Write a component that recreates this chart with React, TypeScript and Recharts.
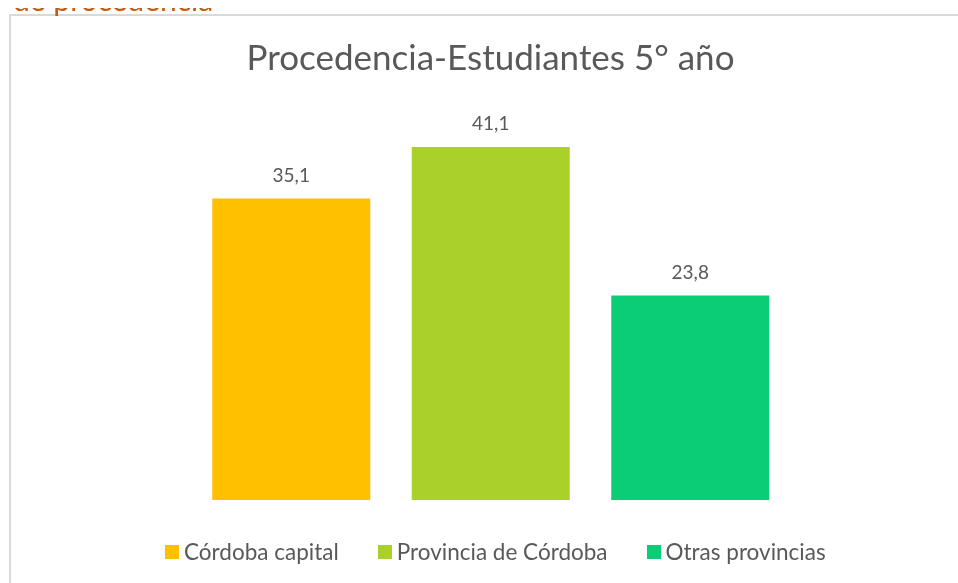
import React from "react";
import { BarChart, Bar, XAxis, YAxis, Cell, LabelList } from "recharts";

const categories = ["Córdoba capital", "Provincia de Córdoba", "Otras provincias"];
const values = [35.1, 41.1, 23.8];
const colors = ["#FFC000", "#A9D12A", "#0BCD75"];
const titleText = "Procedencia-Estudiantes 5° año";
const headerText = "de procedencia";

const data = categories.map((name, i) => ({ name, value: values[i] }));

const FONT = "Lato, 'Open Sans', sans-serif";
const GREY = "#595959";

export default function App() {
  return (
    <div style={{ position: "relative", width: 942, height: 567, fontFamily: FONT }}>
      <div
        style={{
          position: "fixed",
          left: 9,
          top: 14,
          right: 0,
          bottom: 0,
          borderLeft: "2px solid #D9D9D9",
          borderTop: "2px solid #D9D9D9",
        }}
      />
      <div
        style={{
          position: "absolute",
          left: 5,
          top: -24,
          fontSize: 30,
          lineHeight: "30px",
          color: "#C55A11",
          whiteSpace: "nowrap",
          fontFamily: FONT,
        }}
      >
        {headerText}
      </div>
      <div
        style={{
          position: "absolute",
          left: 0,
          width: 942,
          paddingLeft: 23,
          boxSizing: "border-box",
          top: 27,
          textAlign: "center",
          fontSize: 35,
          color: GREY,
          whiteSpace: "nowrap",
        }}
      >
        {titleText}
      </div>
      <div style={{ position: "absolute", left: 0, top: 0 }}>
        <BarChart
          width={942}
          height={567}
          data={data}
          margin={{ top: 105.5, right: 160, left: 183.5, bottom: 75 }}
          barCategoryGap={20.75}
        >
          <XAxis dataKey="name" hide />
          <YAxis hide domain={[0, 45]} />
          <Bar dataKey="value" isAnimationActive={false}>
            {data.map((d, i) => (
              <Cell key={d.name} fill={colors[i]} />
            ))}
            <LabelList
              dataKey="value"
              position="top"
              offset={17}
              fill={GREY}
              fontSize={19}
              fontFamily={FONT}
              formatter={(v: any) => String(v).replace(".", ",")}
            />
          </Bar>
        </BarChart>
      </div>
      <div
        style={{
          position: "absolute",
          left: 157,
          top: 530,
          display: "flex",
          gap: 39,
          alignItems: "center",
          fontSize: 22.5,
          color: GREY,
          whiteSpace: "nowrap",
        }}
      >
        {categories.map((c, i) => (
          <div key={c} style={{ display: "flex", alignItems: "center", gap: 5 }}>
            <span style={{ width: 14, height: 14, background: colors[i], display: "inline-block" }} />
            <span>{c}</span>
          </div>
        ))}
      </div>
    </div>
  );
}
